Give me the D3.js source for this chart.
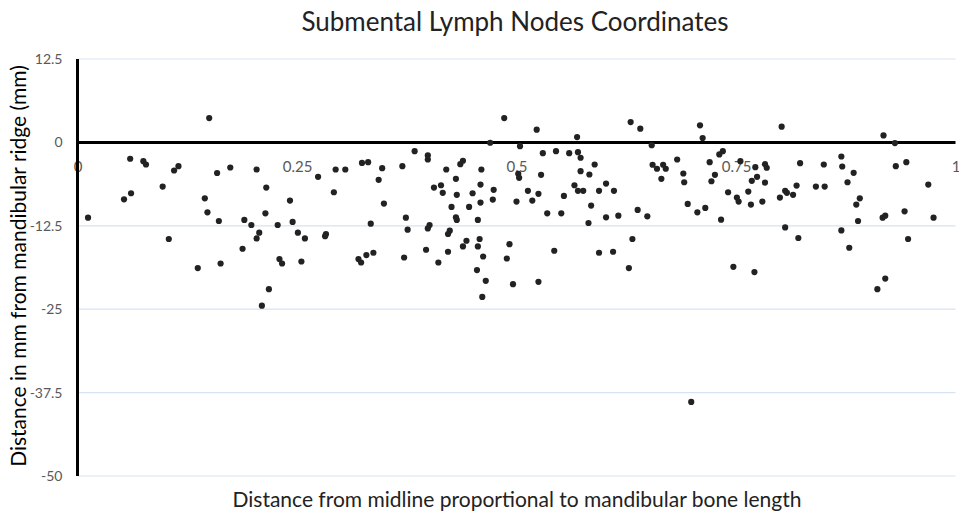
<!DOCTYPE html>
<html>
<head>
<meta charset="utf-8">
<script src="https://cdn.jsdelivr.net/npm/d3@7"></script>
<style>
  body { margin: 0; background: #fff; }
  svg { display: block; font-family: Lato, "Open Sans", sans-serif; }
</style>
</head>
<body>
<svg id="chart" width="959" height="515"></svg>
<script>
// tick labels
var xTicks = [0, 0.25, 0.5, 0.75, 1];
var yTicks = [-50, -37.5, -25, -12.5, 0, 12.5];

// node positions
// x = proportional distance from midline, y = mm from mandibular ridge
var xVals = [
  0.150, 0.060, 0.075, 0.078, 0.115, 0.110, 0.159, 0.097, 0.061, 0.053,
  0.145, 0.148, 0.012, 0.161, 0.104, 0.137, 0.163, 0.174, 0.204, 0.215,
  0.274, 0.294, 0.305, 0.324, 0.292, 0.242, 0.214, 0.190, 0.198, 0.228,
  0.245, 0.207, 0.204, 0.251, 0.259, 0.283, 0.282, 0.188, 0.230, 0.233,
  0.255, 0.320, 0.323, 0.218, 0.210, 0.331, 0.347, 0.343, 0.349, 0.334,
  0.329, 0.337, 0.370, 0.384, 0.399, 0.399, 0.374, 0.376, 0.372, 0.420,
  0.436, 0.439, 0.431, 0.406, 0.414, 0.416, 0.432, 0.426, 0.431, 0.432,
  0.401, 0.399, 0.424, 0.422, 0.397, 0.422, 0.411, 0.443, 0.439, 0.450,
  0.446, 0.460, 0.459, 0.459, 0.456, 0.458, 0.456, 0.462, 0.455, 0.465,
  0.461, 0.474, 0.473, 0.486, 0.470, 0.492, 0.489, 0.523, 0.569, 0.630,
  0.641, 0.504, 0.530, 0.545, 0.560, 0.570, 0.573, 0.589, 0.654, 0.655,
  0.502, 0.503, 0.528, 0.573, 0.583, 0.566, 0.570, 0.576, 0.602, 0.594,
  0.611, 0.513, 0.525, 0.518, 0.500, 0.554, 0.585, 0.535, 0.551, 0.582,
  0.602, 0.616, 0.638, 0.649, 0.543, 0.594, 0.610, 0.632, 0.628, 0.496,
  0.525, 0.709, 0.712, 0.802, 0.660, 0.667, 0.670, 0.665, 0.683, 0.690,
  0.691, 0.720, 0.731, 0.735, 0.726, 0.722, 0.755, 0.741, 0.751, 0.753,
  0.764, 0.767, 0.768, 0.774, 0.772, 0.783, 0.785, 0.783, 0.780, 0.695,
  0.706, 0.715, 0.733, 0.800, 0.806, 0.808, 0.815, 0.819, 0.806, 0.821,
  0.747, 0.771, 0.699, 0.918, 0.931, 0.823, 0.850, 0.870, 0.871, 0.884,
  0.841, 0.851, 0.877, 0.891, 0.887, 0.889, 0.870, 0.879, 0.917, 0.920,
  0.932, 0.944, 0.942, 0.946, 0.969, 0.975, 0.911, 0.920
];
var yVals = [
  3.65, -2.45, -2.81, -3.31, -3.56, -4.21, -4.59, -6.62, -7.62, -8.53,
  -8.38, -10.48, -11.28, -11.78, -14.48, -18.84, -18.15, -3.76, -4.06, -6.77,
  -5.16, -4.06, -4.06, -3.08, -7.47, -8.72, -10.63, -11.62, -12.38, -12.38,
  -11.92, -13.53, -14.39, -13.53, -14.39, -13.73, -14.06, -15.94, -17.49, -18.15,
  -17.85, -17.49, -18.0, -22.0, -24.47, -2.96, -3.86, -5.61, -9.17, -12.18,
  -16.89, -16.54, -3.56, -1.31, -1.95, -2.56, -11.28, -13.08, -17.25, -4.06,
  -3.26, -2.75, -5.46, -6.77, -6.42, -7.56, -7.86, -9.67, -11.23, -11.62,
  -12.38, -12.89, -13.23, -13.73, -16.09, -16.39, -18.0, -14.74, -15.59, -7.62,
  -9.67, -4.06, -6.32, -9.02, -11.62, -14.48, -15.59, -17.1, -19.14, -20.75,
  -23.16, -7.11, -8.57, 3.65, -0.05, -15.26, -17.4, 1.91, 0.80, 3.05,
  2.06, -0.56, -1.61, -1.31, -1.61, -1.46, -2.3, -3.31, -0.41, -3.35,
  -4.71, -5.31, -4.86, -4.32, -4.81, -6.42, -7.26, -7.26, -6.17, -7.26,
  -7.26, -7.26, -7.71, -8.72, -8.87, -8.02, -9.47, -10.63, -10.63, -12.08,
  -11.23, -10.98, -10.12, -11.08, -16.24, -16.54, -16.39, -14.48, -18.84, -21.25,
  -20.9, 2.56, 0.65, 2.36, -3.95, -3.35, -3.95, -5.46, -2.56, -4.66,
  -5.97, -2.96, -1.80, -1.31, -4.86, -5.82, -2.81, -7.47, -8.27, -8.87,
  -7.37, -9.32, -5.76, -5.16, -3.71, -3.26, -3.8, -6.02, -8.87, -9.22,
  -10.48, -9.82, -11.58, -8.27, -7.26, -7.56, -7.86, -6.47, -12.74, -14.33,
  -18.65, -19.44, -38.9, 1.05, -0.1, -3.11, -3.31, -2.11, -3.61, -4.56,
  -6.62, -6.62, -5.97, -8.38, -9.32, -11.78, -13.19, -15.79, -11.28, -10.98,
  -3.56, -2.96, -10.33, -14.48, -6.32, -11.28, -22.0, -20.41
];

var svg = d3.select("#chart");

var x = d3.scaleLinear().domain([0, 1]).range([77.5, 955.5]);
var y = d3.scaleLinear().domain([-50, 12.5]).range([476, 59]);

// light gridlines
svg.append("g")
  .selectAll("line")
  .data(yTicks.filter(d => d !== 0))
  .join("line")
  .attr("x1", x(0)).attr("x2", x(1))
  .attr("y1", d => y(d)).attr("y2", d => y(d))
  .attr("stroke", "#d6e3f3")
  .attr("stroke-width", 1.2);

// x tick labels sit just under the zero line
var xAxis = svg.append("g")
  .attr("transform", "translate(0," + y(0) + ")")
  .call(d3.axisBottom(x).tickValues(xTicks).tickSize(0).tickPadding(19).tickFormat(d => String(d)));
xAxis.select(".domain").remove();
xAxis.selectAll("text")
  .attr("font-family", "Lato, sans-serif")
  .attr("font-size", 15)
  .attr("fill", "#595959");

// y tick labels
var yAxis = svg.append("g")
  .attr("transform", "translate(" + (x(0) - 15) + ",0)")
  .call(d3.axisLeft(y).tickValues(yTicks).tickSize(0).tickPadding(0).tickFormat(d => String(d)));
yAxis.select(".domain").remove();
yAxis.selectAll("text")
  .attr("font-family", "Lato, sans-serif")
  .attr("font-size", 14)
  .attr("fill", "#595959");

// zero line and left axis
svg.append("line")
  .attr("x1", x(0)).attr("x2", x(1))
  .attr("y1", y(0)).attr("y2", y(0))
  .attr("stroke", "#000").attr("stroke-width", 3);
svg.append("line")
  .attr("x1", x(0)).attr("x2", x(0))
  .attr("y1", y(12.5)).attr("y2", y(-50))
  .attr("stroke", "#000").attr("stroke-width", 3);

// the nodes
svg.append("g")
  .selectAll("circle")
  .data(d3.zip(xVals, yVals))
  .join("circle")
  .attr("cx", d => x(d[0]))
  .attr("cy", d => y(d[1]))
  .attr("r", 3.1)
  .attr("fill", "#222");

// titles
svg.append("text")
  .attr("x", 515).attr("y", 31)
  .attr("text-anchor", "middle")
  .attr("font-size", 26)
  .attr("fill", "#222")
  .text("Submental Lymph Nodes Coordinates");

svg.append("text")
  .attr("x", 517).attr("y", 507)
  .attr("text-anchor", "middle")
  .attr("font-size", 21)
  .attr("fill", "#222")
  .text("Distance from midline proportional to mandibular bone length");

svg.append("text")
  .attr("transform", "translate(26,266) rotate(-90)")
  .attr("text-anchor", "middle")
  .attr("font-size", 21)
  .attr("fill", "#000")
  .text("Distance in mm from mandibular ridge (mm)");
</script>
</body>
</html>
